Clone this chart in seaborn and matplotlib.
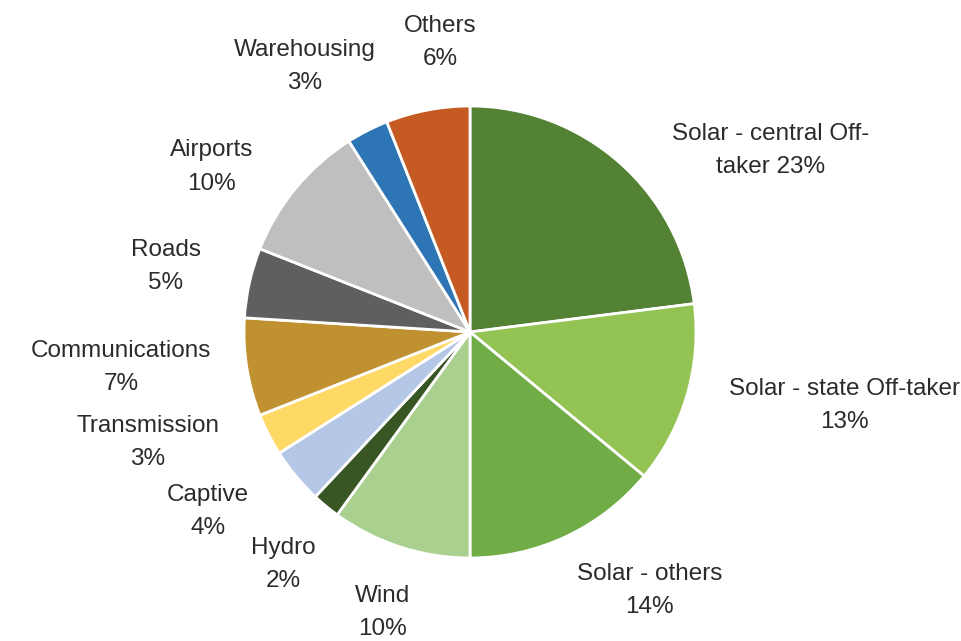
import matplotlib.pyplot as plt
import seaborn as sns

# slice data, clockwise from 12 o'clock
categories = ["Solar - central Off-taker", "Solar - state Off-taker", "Solar - others",
              "Wind", "Hydro", "Captive", "Transmission", "Communications",
              "Roads", "Airports", "Warehousing", "Others"]
shares = [23, 13, 14, 10, 2, 4, 3, 7, 5, 10, 3, 6]
label_text = ["Solar - central Off-\ntaker 23%", "Solar - state Off-taker\n13%",
              "Solar - others\n14%", "Wind\n10%", "Hydro\n2%", "Captive\n4%",
              "Transmission\n3%", "Communications\n7%", "Roads\n5%",
              "Airports\n10%", "Warehousing\n3%", "Others\n6%"]
colors = ["#548235", "#92C353", "#70AD47", "#A9D08E", "#375623", "#B4C7E7",
          "#FFD966", "#BF9131", "#5E5F5E", "#BFBFBF", "#2E75B6", "#C55A22"]

# label anchor points (pie radius = 1)
label_pos = [(1.33, 0.805), (1.655, -0.327), (0.796, -1.142), (-0.385, -1.24),
             (-0.827, -1.027), (-1.159, -0.796), (-1.425, -0.487), (-1.544, -0.155),
             (-1.345, 0.288), (-1.142, 0.730), (-0.730, 1.173), (-0.133, 1.283)]

sns.set_theme(style="white")
plt.rcParams['font.family'] = ['Liberation Sans', 'DejaVu Sans']

fig = plt.figure(figsize=(9.61, 6.41), dpi=100)
ax = fig.add_axes([244 / 961, 83 / 641, 452 / 961, 452 / 641])

ax.pie(shares, colors=colors, startangle=90, counterclock=False,
       wedgeprops={'edgecolor': 'white', 'linewidth': 2})

for txt, (x, y) in zip(label_text, label_pos):
    ax.text(x, y, txt, ha='center', va='center', fontsize=17.5,
            color='#2b2b2b', linespacing=1.65)

ax.set_xlim(-1, 1)
ax.set_ylim(-1, 1)
ax.set_aspect('auto')
ax.axis('off')

fig.savefig("out.png", dpi=100)
